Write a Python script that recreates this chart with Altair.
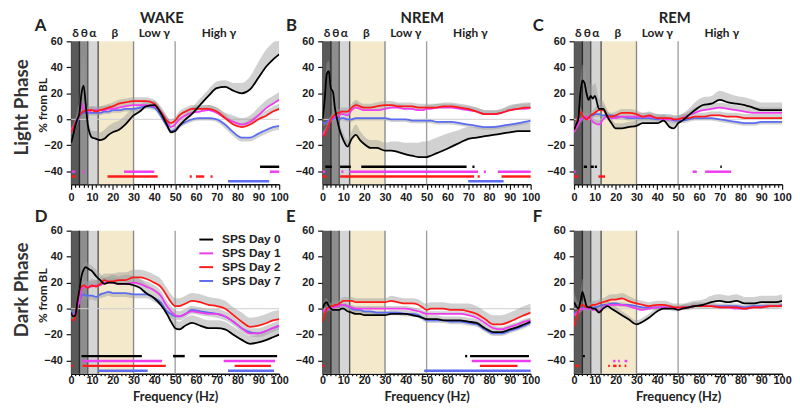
import altair as alt
import pandas as pd

# ---------------- data ----------------
FREQ = [0, 1, 2, 3, 4, 5, 6, 7, 8, 9, 10, 12, 14, 16, 18, 20, 23, 26, 30, 33, 36, 40,
        43, 46, 48, 50, 52, 55, 58, 62, 66, 70, 74, 78, 82, 86, 90, 94, 97, 100]
SERIES = ["SPS Day 0", "SPS Day 1", "SPS Day 2", "SPS Day 7"]
SERIES_COLORS = ["#000000", "#ee3cee", "#ff1a1a", "#5b6cf0"]
ERR_DIR = [1, 1, 1, -1]
SIG_LEVELS = [-36.5, -40.3, -44.0, -47.7]
DRAW_ORDER = ["SPS Day 7", "SPS Day 1", "SPS Day 2", "SPS Day 0"]

BAND_START = [0, 4, 8, 13]
BAND_END = [4, 8, 13, 30]
BAND_FILL = ["#5a5a5a", "#8e8e8e", "#d5d5d5", "#f4eacb"]
EDGE_FREQ = [4, 8, 13, 30, 50]
EDGE_COLOR = ["#2b2b2b", "#555555", "#555555", "#8a8a8a", "#a0a0a0"]
BAND_LABELS = ["δ", "θ", "α", "β", "Low γ", "High γ"]
BAND_LABEL_POS = [2.1, 6.4, 10.4, 21, 40, 71]

PANEL_TITLES = ["WAKE", "NREM", "REM"]
PANEL_LETTERS = ["A", "B", "C", "D", "E", "F"]
ROW_LABELS = ["Light Phase", "Dark Phase"]

# A: WAKE light
A_D0 = [-18, -12, -5, 0, 5, 20, 26, 12, -4, -11, -14, -15, -16, -15, -12, -10, -8, -4, 3, 6, 10, 11,
        5, -4, -10, -9, -5, 0, 4, 11, 18, 24, 25, 22, 20, 23, 32, 41, 46, 50]
A_D0_SEM = [3, 4, 5, 8, 10, 18, 24, 12, 6, 5, 5, 6, 6, 7, 7, 7, 7, 7, 6, 5, 4, 3,
            3, 3, 3, 3, 4, 5, 5, 5, 5, 5, 5, 6, 8, 10, 12, 13, 13, 12]
A_D1 = [-8, -6, -3, 0, 4, 12, 8, 6, 6, 6, 7, 7, 7, 7, 8, 8, 9, 10, 11, 11, 11, 10,
        6, -1, -6, -4, 0, 3, 5, 6, 7, 5, 1, -2, -4, -2, 3, 9, 12, 15]
A_D1_SEM = [2, 2, 3, 3, 4, 6, 5, 4, 3, 3, 3, 3, 3, 3, 3, 3, 3, 3, 4, 4, 4, 4,
            4, 4, 4, 4, 4, 4, 4, 4, 4, 4, 4, 5, 5, 5, 6, 6, 6, 6]
A_D2 = [-10, -7, -3, 0, 3, 5, 6, 7, 7, 7, 7, 6, 7, 8, 9, 10, 12, 13, 14, 14, 14, 12,
        6, -1, -3, -1, 3, 6, 8, 8, 8, 6, 1, -4, -6, -4, 0, 3, 6, 8]
A_D2_SEM = [2, 2, 3, 3, 3, 3, 3, 3, 3, 3, 3, 3, 3, 3, 3, 3, 3, 3, 3, 3, 3, 3,
            3, 3, 3, 3, 3, 3, 3, 3, 3, 3, 3, 3, 3, 4, 4, 4, 4, 4]
A_D7 = [-10, -8, -5, -2, 2, 4, 5, 5, 5, 5, 5, 5, 5, 6, 6, 7, 7, 8, 8, 9, 10, 9,
        3, -5, -9, -8, -5, -2, 0, 1, 1, 0, -4, -10, -14, -14, -11, -8, -6, -5]
A_D7_SEM = [2, 2, 2, 2, 2, 2, 2, 2, 2, 2, 2, 2, 2, 2, 2, 2, 2, 2, 2, 2, 2, 2,
            2, 2, 2, 2, 2, 2, 2, 2, 2, 2, 3, 3, 3, 3, 3, 3, 3, 3]

# B: NREM light
B_D0 = [0, 15, 35, 37, 24, 21, 8, 0, -7, -12, -16, -21, -15, -12, -16, -19, -22, -22, -24, -24, -25, -27,
        -28, -29, -29, -29, -28, -26, -24, -21, -18, -15, -14, -13, -12, -11, -10, -9, -9, -9]
B_D0_SEM = [3, 5, 8, 8, 6, 6, 5, 5, 5, 5, 5, 5, 6, 8, 7, 6, 6, 6, 6, 7, 8, 9,
            10, 11, 12, 12, 12, 12, 12, 11, 10, 9, 8, 7, 7, 6, 6, 6, 6, 6]
B_D1 = [-12, -10, -8, -4, 0, 1, 2, 2, 3, 4, 4, 3, 7, 9, 8, 7, 7, 7, 8, 9, 9, 8,
        8, 7, 7, 8, 8, 9, 9, 9, 8, 7, 6, 4, 4, 5, 7, 8, 8, 9]
B_D1_SEM = [2, 3, 3, 3, 3, 3, 3, 3, 3, 3, 3, 3, 3, 4, 3, 3, 3, 3, 3, 3, 3, 3,
            3, 3, 3, 3, 3, 3, 3, 3, 3, 3, 3, 3, 3, 3, 4, 4, 4, 4]
B_D2 = [-13, -12, -8, -4, 0, 2, 4, 5, 5, 6, 6, 6, 9, 11, 10, 9, 9, 10, 11, 11, 10, 10,
        10, 9, 9, 9, 9, 9, 10, 10, 9, 8, 6, 4, 4, 5, 7, 8, 9, 9]
B_D2_SEM = [3, 3, 3, 3, 3, 3, 3, 3, 3, 3, 3, 3, 3, 4, 3, 3, 3, 3, 3, 3, 3, 3,
            3, 3, 3, 3, 3, 3, 3, 3, 3, 3, 3, 3, 3, 3, 3, 4, 4, 4]
B_D7 = [-2, -3, -2, -1, 0, 0, 1, 0, 0, 1, 1, 0, 0, 1, 1, 1, 1, 1, 1, 0, 0, 0,
        -1, -1, -1, -1, -1, -2, -2, -2, -3, -4, -5, -6, -6, -5, -4, -3, -2, -1]
B_D7_SEM = [2, 2, 2, 2, 2, 2, 2, 2, 2, 2, 2, 2, 2, 2, 2, 2, 2, 2, 2, 2, 2, 2,
            2, 2, 2, 2, 2, 2, 2, 2, 2, 2, 2, 2, 2, 2, 2, 2, 2, 2]

# C: REM light
C_D0 = [-8, -4, 0, 20, 30, 28, 20, 15, 18, 16, 18, 8, 8, 2, -3, -7, -7, -6, -5, -3, -3, -3,
        -1, -6, -7, -3, -1, 3, 7, 11, 12, 15, 13, 12, 11, 9, 7, 7, 7, 7]
C_D0_SEM = [3, 4, 6, 10, 12, 12, 10, 8, 10, 10, 10, 8, 6, 5, 4, 4, 4, 4, 4, 5, 5, 5,
            5, 5, 5, 5, 5, 5, 6, 6, 6, 7, 7, 6, 6, 6, 6, 6, 6, 6]
C_D1 = [-10, -7, -4, -1, 1, 2, 2, 1, 0, -2, -3, -4, 0, 2, 1, 1, 2, 2, 2, 2, 2, 1,
        0, 0, 0, 0, 1, 3, 5, 7, 8, 9, 8, 7, 6, 5, 5, 5, 5, 5]
C_D1_SEM = [3, 3, 3, 3, 3, 3, 3, 3, 3, 3, 3, 3, 3, 3, 3, 3, 3, 3, 3, 3, 3, 3,
            3, 3, 3, 3, 3, 3, 4, 4, 4, 4, 4, 4, 4, 4, 4, 4, 4, 4]
C_D2 = [-8, -4, 2, 6, 3, 1, 0, 1, 3, 4, 5, 7, 7, 3, 2, 3, 5, 5, 4, 2, 3, 1,
        1, 1, 0, 0, 1, 1, 2, 2, 3, 3, 2, 2, 1, 1, 1, 1, 1, 1]
C_D2_SEM = [3, 3, 3, 3, 3, 3, 3, 3, 3, 3, 4, 4, 4, 3, 3, 3, 3, 3, 3, 3, 3, 3,
            3, 3, 3, 3, 3, 3, 3, 3, 3, 3, 3, 3, 3, 3, 3, 3, 3, 3]
C_D7 = [-6, -4, -3, -1, 0, 1, 1, 2, 3, 3, 4, 4, 3, 3, 3, 2, 2, 1, 1, 1, 1, 0,
        0, 0, -1, -1, -1, 0, 1, 1, 1, 0, -1, -2, -3, -3, -2, -2, -2, -2]
C_D7_SEM = [2, 2, 2, 2, 2, 2, 2, 2, 2, 2, 2, 2, 2, 2, 2, 2, 2, 2, 2, 2, 2, 2,
            2, 2, 2, 2, 2, 2, 2, 2, 2, 2, 2, 2, 2, 2, 2, 2, 2, 2]

# D: WAKE dark
D_D0 = [-3, -6, -5, 5, 15, 25, 30, 32, 31, 30, 29, 25, 22, 19, 20, 20, 19, 19, 18, 16, 12, 8,
        3, -4, -10, -15, -16, -13, -11, -13, -15, -15, -16, -20, -24, -27, -26, -24, -22, -20]
D_D0_SEM = [3, 4, 4, 5, 5, 5, 5, 4, 4, 4, 4, 5, 5, 5, 5, 6, 6, 7, 7, 7, 7, 7,
            7, 7, 7, 6, 6, 6, 6, 6, 6, 6, 6, 6, 6, 6, 6, 6, 6, 6]
D_D1 = [-5, -5, -3, 1, 6, 15, 16, 17, 17, 17, 17, 18, 18, 20, 20, 20, 19, 19, 20, 19, 17, 14,
        10, 2, -2, -5, -6, -4, -2, -3, -4, -4, -6, -10, -15, -19, -19, -17, -15, -13]
D_D1_SEM = [4, 4, 4, 4, 4, 4, 4, 4, 4, 4, 4, 4, 4, 4, 4, 4, 4, 4, 4, 4, 4, 4,
            4, 4, 4, 4, 4, 4, 4, 4, 4, 4, 4, 4, 4, 4, 4, 4, 4, 4]
D_D2 = [-8, -9, -6, 5, 14, 17, 18, 17, 16, 17, 18, 17, 19, 22, 21, 21, 22, 22, 24, 24, 23, 20,
        17, 10, 5, 2, 2, 4, 6, 5, 3, 2, 0, -5, -10, -14, -13, -11, -9, -8]
D_D2_SEM = [3, 3, 3, 4, 4, 5, 5, 5, 5, 5, 5, 5, 5, 5, 6, 6, 6, 6, 6, 6, 6, 6,
            6, 6, 6, 6, 6, 6, 6, 6, 6, 6, 6, 6, 7, 7, 7, 7, 7, 7]
D_D7 = [-2, -3, -3, 2, 6, 10, 11, 10, 10, 10, 10, 9, 11, 12, 13, 12, 12, 12, 11, 11, 11, 8,
        5, -2, -4, -6, -6, -4, -1, -2, -3, -4, -6, -10, -15, -18, -19, -17, -15, -13]
D_D7_SEM = [3, 3, 3, 3, 3, 3, 3, 3, 3, 3, 3, 3, 3, 3, 3, 3, 3, 3, 3, 3, 3, 3,
            3, 3, 3, 3, 3, 3, 3, 3, 3, 3, 3, 3, 3, 3, 3, 3, 3, 3]

# E: NREM dark
E_D0 = [0, 4, 5, 2, 0, -1, -1, -1, -1, 0, 0, -2, -3, -4, -4, -5, -5, -5, -5, -4, -4, -4,
        -5, -6, -7, -8, -8, -8, -9, -9, -9, -10, -11, -15, -18, -18, -16, -14, -12, -10]
E_D0_SEM = [3, 3, 3, 3, 3, 3, 3, 3, 3, 3, 3, 3, 3, 3, 3, 3, 3, 3, 3, 3, 3, 3,
            3, 3, 3, 3, 3, 3, 3, 3, 3, 3, 3, 3, 3, 3, 3, 3, 3, 3]
E_D1 = [-2, -1, 0, 0, 0, 1, 1, 2, 2, 3, 3, 2, 1, 0, 0, 0, 0, 0, 0, 0, 0, 0,
        -1, -2, -3, -4, -4, -4, -4, -4, -4, -5, -7, -11, -15, -16, -14, -12, -10, -9]
E_D1_SEM = [2, 2, 2, 2, 2, 2, 2, 2, 2, 2, 2, 2, 2, 2, 2, 2, 2, 2, 2, 2, 2, 2,
            2, 2, 2, 2, 2, 2, 2, 2, 2, 2, 2, 2, 2, 2, 2, 2, 2, 2]
E_D2 = [-10, -5, 0, 1, 2, 2, 3, 3, 4, 5, 6, 6, 6, 5, 5, 5, 5, 5, 5, 6, 5, 4,
        4, 3, 1, -1, 0, 0, 0, -1, -1, -2, -4, -8, -12, -12, -10, -7, -5, -3]
E_D2_SEM = [3, 3, 3, 3, 3, 3, 3, 3, 3, 3, 3, 3, 3, 3, 3, 3, 3, 3, 3, 4, 4, 4,
            4, 4, 4, 5, 5, 5, 5, 5, 5, 6, 6, 6, 7, 7, 7, 7, 7, 7]
E_D7 = [-2, -2, -1, 0, 0, 1, 2, 3, 3, 3, 3, 2, 0, -1, -1, -2, -2, -3, -3, -3, -3, -4,
        -4, -5, -7, -9, -9, -9, -9, -10, -10, -11, -12, -16, -19, -19, -17, -15, -13, -11]
E_D7_SEM = [2, 2, 2, 2, 2, 2, 2, 2, 2, 2, 2, 2, 2, 2, 2, 2, 2, 2, 2, 2, 2, 2,
            2, 2, 2, 2, 2, 2, 2, 2, 2, 2, 2, 2, 2, 2, 2, 2, 2, 2]

# F: REM dark
F_D0 = [5, 2, 0, 5, 13, 8, 2, 1, 1, 0, 0, -3, 0, 2, 0, -2, -5, -8, -12, -10, -7, -2,
        0, 0, 0, -1, 0, 1, 2, 3, 5, 6, 5, 6, 4, 4, 5, 5, 5, 6]
F_D0_SEM = [8, 6, 5, 6, 10, 8, 5, 4, 4, 4, 4, 4, 4, 4, 4, 4, 3, 3, 3, 3, 3, 3,
            3, 3, 3, 3, 3, 4, 4, 4, 5, 5, 5, 5, 5, 5, 5, 5, 5, 5]
F_D1 = [-5, -4, -3, -1, 0, 0, 0, 0, 0, -1, -1, -2, 1, 3, 3, 3, 3, 2, 0, -1, 0, 1,
        1, 1, 0, 0, 1, 1, 2, 2, 2, 1, 1, 0, 0, 1, 1, 2, 2, 2]
F_D1_SEM = [2, 2, 2, 2, 2, 2, 2, 2, 2, 2, 2, 2, 2, 2, 2, 2, 2, 2, 2, 2, 2, 2,
            2, 2, 2, 2, 2, 2, 2, 2, 2, 2, 2, 2, 2, 2, 2, 2, 2, 2]
F_D2 = [-14, -8, -2, 2, 3, 2, 1, 1, 2, 3, 3, 4, 5, 6, 7, 7, 8, 6, 4, 3, 2, 3,
        3, 2, 1, 1, 1, 1, 2, 2, 2, 1, 1, 1, 0, 1, 1, 2, 2, 2]
F_D2_SEM = [3, 3, 3, 3, 3, 3, 3, 3, 3, 3, 3, 3, 3, 4, 4, 4, 4, 4, 3, 3, 3, 3,
            3, 3, 3, 3, 3, 3, 3, 3, 3, 3, 3, 3, 3, 3, 3, 3, 3, 3]
F_D7 = [-4, -3, -2, -1, 0, 1, 1, 0, 0, 1, 1, 2, 3, 3, 4, 4, 3, 3, 2, 1, 1, 1,
        1, 1, 0, 0, 1, 1, 2, 2, 2, 2, 2, 2, 1, 2, 2, 2, 2, 3]
F_D7_SEM = [2, 2, 2, 2, 2, 2, 2, 2, 2, 2, 2, 2, 2, 2, 2, 2, 2, 2, 2, 2, 2, 2,
            2, 2, 2, 2, 2, 2, 2, 2, 2, 2, 2, 2, 2, 2, 2, 2, 2, 2]

# significance bars: (series, start Hz, end Hz)
SIG_A = [("SPS Day 0", 90.8, 100), ("SPS Day 1", 0.3, 2), ("SPS Day 1", 5.5, 6.5),
         ("SPS Day 1", 25.4, 40), ("SPS Day 1", 95.5, 100), ("SPS Day 2", 0.3, 2.2),
         ("SPS Day 2", 17.5, 41.6), ("SPS Day 2", 57, 58), ("SPS Day 2", 60, 64),
         ("SPS Day 2", 67, 68), ("SPS Day 7", 75.4, 95.2)]
SIG_B = [("SPS Day 0", 1.3, 4.4), ("SPS Day 0", 8.4, 13.6), ("SPS Day 0", 18.6, 69.2),
         ("SPS Day 0", 72, 73), ("SPS Day 1", 0, 1.3), ("SPS Day 1", 9, 10),
         ("SPS Day 1", 12.8, 74.7), ("SPS Day 1", 77.5, 78.5), ("SPS Day 1", 84.2, 100),
         ("SPS Day 2", 0, 2), ("SPS Day 2", 8.4, 72.8), ("SPS Day 2", 74.5, 75.5),
         ("SPS Day 2", 86, 100), ("SPS Day 7", 70, 87)]
SIG_C = [("SPS Day 0", 4.7, 6.2), ("SPS Day 0", 8, 9.5), ("SPS Day 0", 10, 11),
         ("SPS Day 0", 70.3, 71), ("SPS Day 1", 0, 0.8), ("SPS Day 1", 57, 59),
         ("SPS Day 1", 63, 75.5), ("SPS Day 2", 0, 2), ("SPS Day 2", 11.7, 14.9)]
SIG_D = [("SPS Day 0", 5, 34), ("SPS Day 0", 49, 54.6), ("SPS Day 0", 61.7, 99),
         ("SPS Day 1", 5.5, 43.7), ("SPS Day 1", 73.3, 98), ("SPS Day 2", 0, 1),
         ("SPS Day 2", 5.5, 45.5), ("SPS Day 2", 78.6, 96), ("SPS Day 7", 13, 36.8),
         ("SPS Day 7", 75.4, 97.5)]
SIG_E = [("SPS Day 0", 68.5, 69.5), ("SPS Day 0", 70.9, 99.2), ("SPS Day 1", 71.7, 100),
         ("SPS Day 2", 0, 1), ("SPS Day 2", 75.6, 93.7), ("SPS Day 7", 48.8, 100)]
SIG_F = [("SPS Day 0", 4.3, 5.2), ("SPS Day 1", 18.8, 19.9), ("SPS Day 1", 21.2, 22),
         ("SPS Day 1", 24.3, 25.6), ("SPS Day 2", 0.5, 2.7), ("SPS Day 2", 16.4, 17.2),
         ("SPS Day 2", 18.8, 20.4), ("SPS Day 2", 21.5, 22.4), ("SPS Day 2", 24.3, 25.1)]

PANEL_MEANS = [[A_D0, A_D1, A_D2, A_D7], [B_D0, B_D1, B_D2, B_D7], [C_D0, C_D1, C_D2, C_D7],
               [D_D0, D_D1, D_D2, D_D7], [E_D0, E_D1, E_D2, E_D7], [F_D0, F_D1, F_D2, F_D7]]
PANEL_SEMS = [[A_D0_SEM, A_D1_SEM, A_D2_SEM, A_D7_SEM], [B_D0_SEM, B_D1_SEM, B_D2_SEM, B_D7_SEM],
              [C_D0_SEM, C_D1_SEM, C_D2_SEM, C_D7_SEM], [D_D0_SEM, D_D1_SEM, D_D2_SEM, D_D7_SEM],
              [E_D0_SEM, E_D1_SEM, E_D2_SEM, E_D7_SEM], [F_D0_SEM, F_D1_SEM, F_D2_SEM, F_D7_SEM]]
PANEL_SIGS = [SIG_A, SIG_B, SIG_C, SIG_D, SIG_E, SIG_F]

# ---------------- layout / style ----------------
W, H = 211, 145
XS = alt.Scale(domain=[0, 100], nice=False, zero=False)
YS = alt.Scale(domain=[-50, 60], nice=False, zero=False)
CS = alt.Scale(domain=SERIES, range=SERIES_COLORS)
TITLE_X = [92, 101, 102]
LETTER_X = [-37, -37, -42]
LBL_FONT = "Lato"


def x_axis(bottom):
    kw = dict(values=list(range(0, 101, 2)),
              labelExpr="datum.value % 10 === 0 ? datum.label : ''",
              labelFlush=False, labelOverlap=False, grid=False,
              tickSize={"condition": {"test": "datum.value % 10 === 0",
                                      "value": 3 if bottom else 5},
                        "value": 2 if bottom else 3},
              labelPadding=-2 if bottom else 2)
    if bottom:
        kw.update(titleFont=LBL_FONT, titleFontSize=13, titleFontWeight="bold",
                  titleColor="#222222", titlePadding=5)
    return alt.Axis(**kw)


def X(field, bottom):
    return alt.X(field, type="quantitative", scale=XS, axis=x_axis(bottom),
                 title="Frequency (Hz)" if bottom else None)


Y_AXIS = alt.Axis(values=[-40, -20, 0, 20, 40, 60], tickSize=5, labelPadding=4, grid=False)


def Y(field):
    return alt.Y(field, type="quantitative", scale=YS, axis=Y_AXIS, title=None)


def text_layer(txt, x, y, size, angle=0, align="center", baseline="alphabetic", color="#222222"):
    kw = dict(font=LBL_FONT, fontSize=size, fontWeight="bold", color=color,
              align=align, baseline=baseline)
    if angle:
        kw["angle"] = angle
    return alt.Chart(pd.DataFrame({"t": [txt]})).mark_text(**kw).encode(
        x=alt.value(x), y=alt.value(y), text="t:N")


def make_panel(idx):
    row, col = divmod(idx, 3)
    bottom = row == 1
    means, sems, sig = PANEL_MEANS[idx], PANEL_SEMS[idx], PANEL_SIGS[idx]

    rows = []
    for s in DRAW_ORDER:
        k = SERIES.index(s)
        for f, v, e in zip(FREQ, means[k], sems[k]):
            rows.append({"freq": f, "series": s, "value": v, "bound": v + ERR_DIR[k] * e})
    df = pd.DataFrame(rows)
    sdf = pd.DataFrame([{"series": s, "start": a, "end": b,
                         "level": SIG_LEVELS[SERIES.index(s)]} for s, a, b in sig])
    bands = pd.DataFrame({"start": BAND_START, "end": BAND_END, "fill": BAND_FILL})
    edges = pd.DataFrame({"freq": EDGE_FREQ, "col": EDGE_COLOR})

    if idx == 3:
        legend = alt.Legend(orient="none", legendX=129, legendY=1, title=None,
                            symbolType="stroke", symbolStrokeWidth=2, symbolSize=196,
                            labelFont="Liberation Sans", labelFontSize=12,
                            labelFontWeight="bold", labelColor="#222222",
                            rowPadding=0, labelOffset=8, padding=0)
    else:
        legend = None

    layers = [
        alt.Chart(bands).mark_rect().encode(
            x=X("start", bottom), x2="end", y=alt.value(0), y2=alt.value(H),
            fill=alt.Fill("fill:N", scale=None)),
        alt.Chart(edges).mark_rule(strokeWidth=1.4).encode(
            x=X("freq", bottom), stroke=alt.Stroke("col:N", scale=None)),
        alt.Chart(pd.DataFrame({"zero": [0]})).mark_rule(color="#cfcfcf", strokeWidth=1).encode(
            y=Y("zero")),
        alt.Chart(df).mark_area(color="#999999", opacity=0.45, interpolate="monotone", clip=True).encode(
            x=X("freq", bottom), y=Y("value"), y2="bound", detail="series:N"),
        alt.Chart(df).mark_line(strokeWidth=1.8, interpolate="monotone", clip=True).encode(
            x=X("freq", bottom), y=Y("value"),
            color=alt.Color("series:N", scale=CS, legend=legend)),
        alt.Chart(sdf).mark_rule(strokeWidth=2.5).encode(
            x=X("start", bottom), x2="end", y=Y("level"),
            color=alt.Color("series:N", scale=CS, legend=legend)),
    ]
    if not bottom:
        layers.append(
            alt.Chart(pd.DataFrame({"label": BAND_LABELS, "pos": BAND_LABEL_POS})).mark_text(
                font=LBL_FONT, fontSize=12, fontWeight="bold", color="#222222",
                baseline="alphabetic").encode(x=X("pos", bottom), y=alt.value(-4), text="label:N"))
        layers.append(text_layer(PANEL_TITLES[col], TITLE_X[col], -19, 15))
    layers.append(text_layer(PANEL_LETTERS[idx], LETTER_X[col], -9 if bottom else -10, 17, align="left"))
    if col == 0:
        layers.append(text_layer(ROW_LABELS[row], -50, 60 if bottom else 67, 19, angle=270,
                                 baseline="middle", color="#333333"))
        layers.append(text_layer("% from BL", -28, 66 if bottom else 65, 12, angle=270,
                                 baseline="middle"))
    return alt.layer(*layers).properties(width=W, height=H)


panels = [make_panel(i) for i in range(6)]
chart = alt.concat(*panels, columns=3, spacing={"row": 47, "column": 44}, bounds="flush")
chart = chart.resolve_scale(color="independent").resolve_legend(color="independent")
chart = chart.properties(padding={"left": 5, "top": 0, "right": 0, "bottom": 0}).configure_view(
    stroke=None).configure_axis(
    domainColor="#111111", tickColor="#111111", domainWidth=1.5, tickWidth=1.2,
    labelColor="#1a1a1a", labelFont="Liberation Sans", labelFontSize=11, labelFontWeight="bold")

chart.save("out.html", embed_options={"renderer": "svg", "actions": False})
